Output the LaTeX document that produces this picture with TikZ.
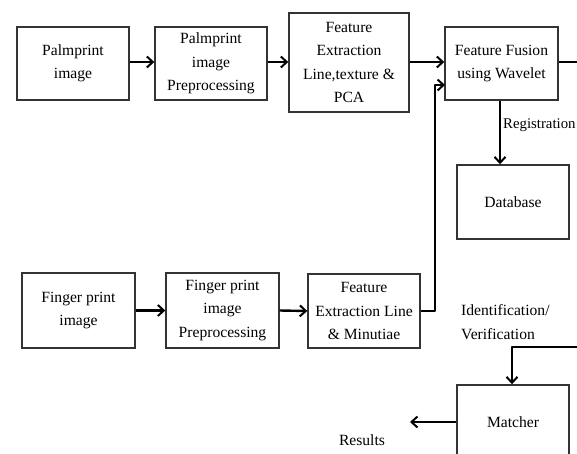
\documentclass[tikz,border=0pt]{standalone}
\usepackage{fontspec}
\setmainfont{Liberation Serif}
\usetikzlibrary{arrows.meta}

\tikzset{
  blockbox/.style={draw=black!80, line width=1.4pt, minimum width=112pt,
    minimum height=73pt, align=center, inner sep=1pt},
  flowtext/.style={font=\fontsize{15.6}{23.5}\selectfont, text=black},
  flow/.style={line width=2.4pt, line join=round,
    -{Straight Barb[length=6pt,width=11pt,line width=2pt]}},
}

\begin{document}
\begin{tikzpicture}[x=1pt, y=-1pt, every node/.style={flowtext}]
  \clip (0,0) rectangle (577,454);

  % palmprint row
  \node[blockbox] (palm)     at (73,63.5)  {Palmprint\\image};
  \node[blockbox] (palmpre)  at (211,63.5) {Palmprint\\image\\Preprocessing};
  \node[blockbox, minimum width=120pt, minimum height=99pt]
                  (palmfeat) at (349,62.5) {Feature\\Extraction\\Line,texture \&\\PCA};
  \node[blockbox, minimum width=113pt]
                  (fusion)   at (501.5,63.5) {Feature Fusion\\using Wavelet};
  \node[blockbox, minimum height=74pt] (db) at (513,202) {Database};

  % fingerprint row
  \node[blockbox, minimum width=113pt, minimum height=75pt]
                  (finger)     at (78.5,310.5) {Finger print\\image};
  \node[blockbox, minimum width=113pt, minimum height=75pt]
                  (fingerpre)  at (222.5,310.5) {Finger print\\image\\Preprocessing};
  \node[blockbox, minimum height=74pt]
                  (fingerfeat) at (364,311) {Feature\\Extraction Line\\\& Minutiae};
  \node[blockbox, minimum height=74pt] (matcher) at (513,422) {Matcher};

  % labels
  \node[anchor=west, inner sep=0pt, font=\fontsize{14.8}{18}\selectfont]
    (reglabel) at (503,125) {Registration};
  \node[anchor=west, align=left, inner sep=0pt] (idlabel) at (461,322)
    {Identification/\\Verification};
  \node[inner sep=0pt] (results) at (362,440) {Results};

  \coordinate (fusionin) at (445,85);
  \coordinate (rightup) at (578,62);
  \coordinate (rightdown) at (578,347);
  \coordinate (resend) at (410,422);

  % connectors
  \draw[flow] (palm.east |- 0,62) -- (palmpre.west |- 0,62);
  \draw[flow] (palmpre.east |- 0,62) -- (palmfeat.west |- 0,62);
  \draw[flow] (palmfeat.east |- 0,62) -- (fusion.west |- 0,62);
  \draw[flow] (finger.east) -- (fingerpre.west);
  \draw[flow] (fingerpre.east) -- (fingerfeat.west);
  \draw[flow] (fingerfeat.east) -- (435,311) -- (435,85) -- (fusionin);
  \draw[flow] (fusion.south -| 500,0) -- (db.north -| 500,0);
  \draw[flow] (fusion.east |- rightup) -- (rightup) -- (rightdown)
    -- (512,347) -- (matcher.north -| 512,0);
  \draw[flow] (matcher.west) -- (resend);
\end{tikzpicture}
\end{document}
